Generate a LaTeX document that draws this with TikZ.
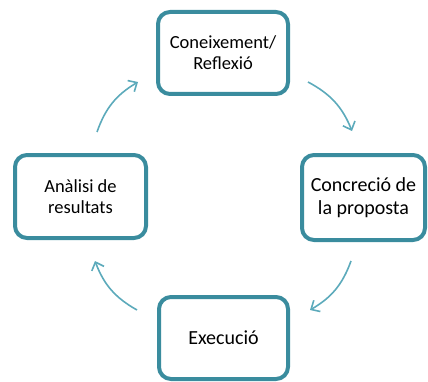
\documentclass[tikz,border=0pt]{standalone}
\usepackage{fontspec}
\setmainfont{Carlito}
\usetikzlibrary{arrows.meta, positioning}
\definecolor{boxteal}{RGB}{58,140,158}
\definecolor{arrowteal}{RGB}{92,170,187}
\tikzset{>={Straight Barb[length=7pt,width=13pt]}}
\tikzset{
  stage/.style={draw=boxteal, line width=4pt, rounded corners=12pt, fill=white,
    align=center, inner sep=0pt, font=\fontsize{18.5}{21}\selectfont},
  bigstage/.style={stage, font=\fontsize{20}{23}\selectfont},
  cycarrow/.style={->, draw=arrowteal, line width=1.6pt}
}

\begin{document}
\begin{tikzpicture}[x=1pt,y=1pt]
            \useasboundingbox (0,0) rectangle (428,381);
            \node[stage, minimum width=130pt, minimum height=82pt] (top) at (223,328) {Coneixement/\\Reflexió};
            \node[stage, minimum width=131pt, minimum height=83pt] (lft) at (80.5,184.5) {Anàlisi de\\resultats};
            \node[bigstage, minimum width=123pt, minimum height=85pt] (rgt) at (363.5,183.5) {Concreció de\\la proposta};
            \node[bigstage, minimum width=129pt, minimum height=82pt] (bot) at (223.5,43) {Execució};

            \draw[cycarrow] ([shift={(16.5pt,21pt)}]lft.north) to [bend left=20] ([shift={(-18pt,-29pt)}]top.west);
            \draw[cycarrow] ([shift={(18pt,-29pt)}]top.east) to [bend left=20] ([shift={(-11.5pt,22pt)}]rgt.north);
            \draw[cycarrow] ([shift={(-12.5pt,-19pt)}]rgt.south) to [bend left=20] ([shift={(20pt,28pt)}]bot.east);
            \draw[cycarrow] ([shift={(-20pt,28pt)}]bot.west) to [bend left=20] ([shift={(14.5pt,-21pt)}]lft.south);

            \end{tikzpicture}
\end{document}
